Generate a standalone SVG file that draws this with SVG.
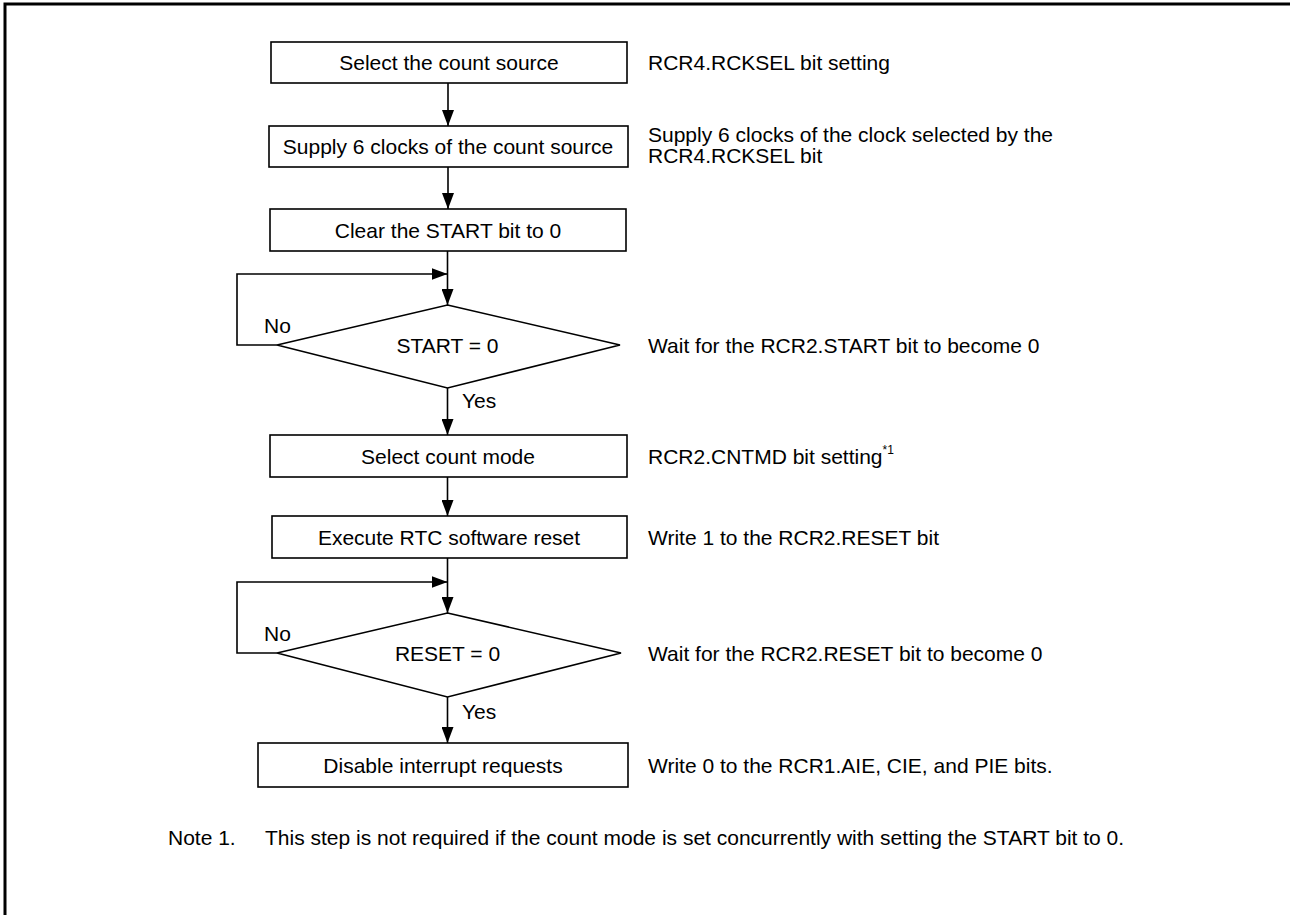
<svg xmlns="http://www.w3.org/2000/svg" width="1290" height="915" viewBox="0 0 1290 915">
<style>
text{font-family:"Liberation Sans",Arial,sans-serif;font-size:21px;fill:#000}
.c{text-anchor:middle}
.box{fill:#fff;stroke:#000;stroke-width:1.6}
.ln{fill:none;stroke:#000;stroke-width:1.6}
</style>
<defs>
<marker id="ah" viewBox="0 0 16 12" refX="16" refY="6" markerWidth="16" markerHeight="12" markerUnits="userSpaceOnUse" orient="auto">
<path d="M0,0 L16,6 L0,12 Z" fill="#000"/>
</marker>
</defs>
<rect width="1290" height="915" fill="#fff"/>
<path d="M5,915 V4 H1290" fill="none" stroke="#000" stroke-width="3"/>
<g id="connectors">
<line class="ln" x1="448" y1="83" x2="448" y2="126" marker-end="url(#ah)"/>
<line class="ln" x1="448" y1="167" x2="448" y2="209" marker-end="url(#ah)"/>
<line class="ln" x1="447.5" y1="251" x2="447.5" y2="305" marker-end="url(#ah)"/>
<polyline class="ln" points="277,345 237,345 237,274 447.5,274" marker-end="url(#ah)"/>
<line class="ln" x1="447.5" y1="388" x2="447.5" y2="435" marker-end="url(#ah)"/>
<line class="ln" x1="447.5" y1="477" x2="447.5" y2="516" marker-end="url(#ah)"/>
<line class="ln" x1="447.5" y1="558" x2="447.5" y2="613" marker-end="url(#ah)"/>
<polyline class="ln" points="277,653 237,653 237,582 447.5,582" marker-end="url(#ah)"/>
<line class="ln" x1="447.5" y1="697" x2="447.5" y2="743" marker-end="url(#ah)"/>
<text x="264" y="333">No</text>
<text x="462" y="408">Yes</text>
<text x="264" y="641">No</text>
<text x="462" y="719">Yes</text>
</g>
<g id="n1"><rect class="box" x="271" y="42" width="356" height="41"/><text class="c" x="449" y="70">Select the count source</text></g>
<g id="n2"><rect class="box" x="269" y="126" width="359" height="41"/><text class="c" x="448" y="154">Supply 6 clocks of the count source</text></g>
<g id="n3"><rect class="box" x="270" y="209" width="356" height="42"/><text class="c" x="448" y="238">Clear the START bit to 0</text></g>
<g id="n4"><polygon class="box" points="447.5,305 620,345 447.5,388 277,345"/><text class="c" x="447.5" y="353">START = 0</text></g>
<g id="n5"><rect class="box" x="270" y="435" width="357" height="42"/><text class="c" x="448" y="464">Select count mode</text></g>
<g id="n6"><rect class="box" x="272" y="516" width="355" height="42"/><text class="c" x="449" y="545">Execute RTC software reset</text></g>
<g id="n7"><polygon class="box" points="447.5,613 621,653 447.5,697 277,653"/><text class="c" x="447.5" y="661">RESET = 0</text></g>
<g id="n8"><rect class="box" x="258" y="743" width="370" height="44"/><text class="c" x="443" y="773">Disable interrupt requests</text></g>
<g id="notes">
<text x="648" y="70">RCR4.RCKSEL bit setting</text>
<text x="648" y="142">Supply 6 clocks of the clock selected by the</text>
<text x="648" y="163">RCR4.RCKSEL bit</text>
<text x="648" y="353">Wait for the RCR2.START bit to become 0</text>
<text x="648" y="464">RCR2.CNTMD bit setting<tspan font-size="12" dy="-10">*1</tspan></text>
<text x="648" y="545">Write 1 to the RCR2.RESET bit</text>
<text x="648" y="661">Wait for the RCR2.RESET bit to become 0</text>
<text x="648" y="773">Write 0 to the RCR1.AIE, CIE, and PIE bits.</text>
<text x="168" y="845">Note 1.</text>
<text x="265" y="845">This step is not required if the count mode is set concurrently with setting the START bit to 0.</text>
</g>
</svg>
